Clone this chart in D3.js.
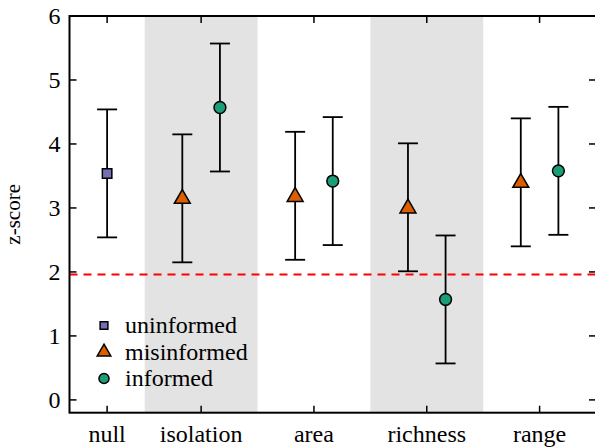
<!DOCTYPE html>
<html>
<head>
<meta charset="utf-8">
<script src="https://cdn.jsdelivr.net/npm/d3@7"></script>
<style>
  body { margin: 0; background: #fff; }
  svg { display: block; overflow: hidden; }
</style>
</head>
<body>
<div id="chart"></div>
<script>
// data
var categories = ["null", "isolation", "area", "richness", "range"];
var catPos = [1/6, 1, 2, 3, 4];
var shaded = ["isolation", "richness"];

var uninformedCat = ["null"];
var uninformedMean = [3.54];
var uninformedLo = [2.54];
var uninformedHi = [4.54];

var misCat = ["isolation", "area", "richness", "range"];
var misMean = [3.16, 3.19, 3.01, 3.41];
var misLo = [2.15, 2.19, 2.01, 2.40];
var misHi = [4.15, 4.19, 4.01, 4.40];

var infCat = ["isolation", "area", "richness", "range"];
var infMean = [4.57, 3.42, 1.57, 3.58];
var infLo = [3.57, 2.42, 0.57, 2.58];
var infHi = [5.57, 4.42, 2.57, 4.58];

var yTicks = [0, 1, 2, 3, 4, 5, 6];
var threshold = 1.96;

var legendKeys = ["uninformed", "misinformed", "informed"];
var colors = {uninformed: "#7570b3", misinformed: "#d95f02", informed: "#1b9e77"};

var serif = "'Liberation Serif'";

// dimensions
var W = 595, H = 448;
var margin = {top: 16, left: 69.5},
    width = 596 - margin.left,
    height = 412.7 - margin.top;

var svg = d3.select("#chart")
  .append("svg")
    .attr("width", W)
    .attr("height", H)
  .append("g")
    .attr("transform", "translate(" + margin.left + "," + margin.top + ")");

var x = d3.scaleLinear().domain([-1/6, 4.5]).range([0, width]);
var y = d3.scaleLinear().domain([-0.2, 6]).range([height, 0]);
var off = 1/6;

function posOf(c) { return catPos[categories.indexOf(c)]; }

// grey bands
svg.selectAll("rect.band")
  .data(shaded)
  .enter()
  .append("rect")
    .attr("class", "band")
    .attr("x", function(d) { return x(posOf(d) - 0.5); })
    .attr("y", 0)
    .attr("width", x(1) - x(0))
    .attr("height", height)
    .attr("fill", "#e3e3e3");

// threshold line
svg.append("line")
  .attr("x1", 0).attr("x2", width)
  .attr("y1", y(threshold)).attr("y2", y(threshold))
  .attr("stroke", "#ff0000")
  .attr("stroke-width", 2)
  .attr("stroke-dasharray", "8,6");

// build series
function makeSeries(key, cats, mean, lo, hi, dx) {
  return cats.map(function(c, i) {
    return {key: key, x: posOf(c) + dx, m: mean[i], lo: lo[i], hi: hi[i]};
  });
}
var points = []
  .concat(makeSeries("uninformed", uninformedCat, uninformedMean, uninformedLo, uninformedHi, 0))
  .concat(makeSeries("misinformed", misCat, misMean, misLo, misHi, -off))
  .concat(makeSeries("informed", infCat, infMean, infLo, infHi, off));

// error bars
var eb = svg.selectAll("g.eb")
  .data(points)
  .enter()
  .append("g")
    .attr("class", "eb")
    .attr("stroke", "#000")
    .attr("stroke-width", 1.8);
eb.append("line")
  .attr("x1", function(d) { return x(d.x); })
  .attr("x2", function(d) { return x(d.x); })
  .attr("y1", function(d) { return y(d.lo); })
  .attr("y2", function(d) { return y(d.hi); });
eb.append("line")
  .attr("x1", function(d) { return x(d.x) - 10; })
  .attr("x2", function(d) { return x(d.x) + 10; })
  .attr("y1", function(d) { return y(d.lo); })
  .attr("y2", function(d) { return y(d.lo); });
eb.append("line")
  .attr("x1", function(d) { return x(d.x) - 10; })
  .attr("x2", function(d) { return x(d.x) + 10; })
  .attr("y1", function(d) { return y(d.hi); })
  .attr("y2", function(d) { return y(d.hi); });

// marker shapes
var shapes = {
  uninformed: d3.symbol().type(d3.symbolSquare).size(90),
  misinformed: d3.symbol().type(d3.symbolTriangle).size(110),
  informed: d3.symbol().type(d3.symbolCircle).size(110)
};

svg.selectAll("path.mark")
  .data(points)
  .enter()
  .append("path")
    .attr("class", "mark")
    .attr("d", function(d) { return shapes[d.key](); })
    .attr("transform", function(d) {
      var dy = d.key == "misinformed" ? 1 : 0;
      return "translate(" + x(d.x) + "," + (y(d.m) + dy) + ")";
    })
    .attr("fill", function(d) { return colors[d.key]; })
    .attr("stroke", "#000")
    .attr("stroke-width", 1.5);

// frame
svg.append("rect")
  .attr("x", 0).attr("y", 0)
  .attr("width", width).attr("height", height)
  .attr("fill", "none")
  .attr("stroke", "#000")
  .attr("stroke-width", 2);

// y ticks (both sides, inward)
var yt = svg.selectAll("g.yt")
  .data(yTicks)
  .enter()
  .append("g")
    .attr("class", "yt");
yt.append("line")
  .attr("x1", 0).attr("x2", 7)
  .attr("y1", function(d) { return y(d); })
  .attr("y2", function(d) { return y(d); })
  .attr("stroke", "#000").attr("stroke-width", 1.5);
yt.append("line")
  .attr("x1", width - 7).attr("x2", width)
  .attr("y1", function(d) { return y(d); })
  .attr("y2", function(d) { return y(d); })
  .attr("stroke", "#000").attr("stroke-width", 1.5);
yt.append("text")
  .attr("x", -9)
  .attr("y", function(d) { return y(d); })
  .attr("dy", "0.34em")
  .attr("text-anchor", "end")
  .style("font-family", serif)
  .style("font-size", "24px")
  .text(function(d) { return d; });

// x ticks (top and bottom, inward)
var xt = svg.selectAll("g.xt")
  .data(categories)
  .enter()
  .append("g")
    .attr("class", "xt");
xt.append("line")
  .attr("x1", function(d) { return x(posOf(d)); })
  .attr("x2", function(d) { return x(posOf(d)); })
  .attr("y1", height).attr("y2", height - 7)
  .attr("stroke", "#000").attr("stroke-width", 1.5);
xt.append("line")
  .attr("x1", function(d) { return x(posOf(d)); })
  .attr("x2", function(d) { return x(posOf(d)); })
  .attr("y1", 0).attr("y2", 7)
  .attr("stroke", "#000").attr("stroke-width", 1.5);
xt.append("text")
  .attr("x", function(d) { return x(posOf(d)); })
  .attr("y", height + 29.5)
  .attr("text-anchor", "middle")
  .style("font-family", serif)
  .style("font-size", "24px")
  .text(function(d) { return d; });

// y label
svg.append("text")
  .attr("transform", "translate(" + (-50) + "," + (height / 2) + ") rotate(-90)")
  .attr("text-anchor", "middle")
  .style("font-family", serif)
  .style("font-size", "21px")
  .text("z-score");

// legend
var lg = svg.selectAll("g.lg")
  .data(legendKeys)
  .enter()
  .append("g")
    .attr("class", "lg")
    .attr("transform", function(d, i) {
      return "translate(" + (104 - margin.left) + "," + (325.5 - margin.top + i * 26.5) + ")";
    });
lg.append("path")
  .attr("d", function(d) {
    var s = d == "uninformed" ? 60 : 80;
    return shapes[d].size(s)();
  })
  .attr("fill", function(d) { return colors[d]; })
  .attr("stroke", "#000")
  .attr("stroke-width", 1.5);
lg.append("text")
  .attr("x", 21)
  .attr("dy", "0.33em")
  .style("font-family", serif)
  .style("font-size", "24px")
  .text(function(d) { return d; });
</script>
</body>
</html>
